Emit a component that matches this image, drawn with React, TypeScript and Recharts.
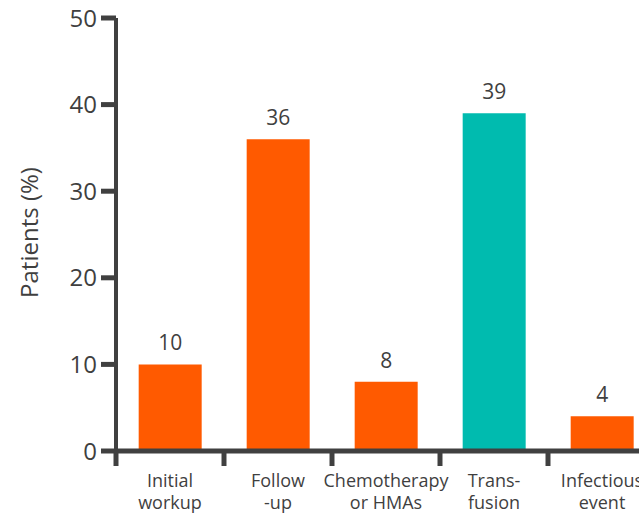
import React from "react";
import { BarChart, Bar, XAxis, YAxis, Cell, LabelList } from "recharts";

const categories = ["Initial|workup", "Follow|-up", "Chemotherapy|or HMAs", "Trans-|fusion", "Infectious|event"];
const patientsPct = [10, 36, 8, 39, 4];
const yTicks = [0, 10, 20, 30, 40, 50];
const highlighted = "Trans-|fusion";

const data = categories.map((c, i) => ({ category: c, value: patientsPct[i] }));

const ORANGE = "#FF5A00";
const TEAL = "#00BBAF";
const DARK = "#404040";
const TEXT = "#3f3f3f";
const FONT = "'Open Sans', 'Noto Sans', sans-serif";

const CHART_W = 700;
const CHART_H = 514;
const Y_AXIS_W = 116;
const MARGIN = { top: 18, right: 44, bottom: 0, left: 0 };
const BAND = (CHART_W - Y_AXIS_W - MARGIN.right - MARGIN.left) / categories.length;

const CategoryTick = (props: any) => {
  const { x, y, payload } = props;
  const lines = String(payload.value).split("|");
  return (
    <g>
      <line x1={x - BAND / 2} x2={x - BAND / 2} y1={y} y2={y + 15} stroke={DARK} strokeWidth={5} />
      {lines.map((ln, i) => (
        <text key={i} x={x} y={y + 36 + i * 22} textAnchor="middle" fill={TEXT} fontSize={18} fontFamily={FONT}>
          {ln}
        </text>
      ))}
    </g>
  );
};

export default function App() {
  return (
    <div style={{ position: "absolute", top: 0, left: 0, width: 639, height: 514, overflow: "hidden", background: "#fff" }}>
      <BarChart width={CHART_W} height={CHART_H} data={data} margin={MARGIN} barCategoryGap="21%">
        <XAxis
          dataKey="category"
          axisLine={{ stroke: DARK, strokeWidth: 5 }}
          tickLine={false}
          tickSize={0}
          tickMargin={0}
          height={63}
          interval={0}
          tick={<CategoryTick />}
        />
        <YAxis
          domain={[0, 50]}
          ticks={yTicks}
          width={Y_AXIS_W}
          axisLine={{ stroke: DARK, strokeWidth: 4 }}
          tickLine={{ stroke: DARK, strokeWidth: 5 }}
          tickSize={15}
          tickMargin={4}
          tick={{ fill: TEXT, fontSize: 24, fontFamily: FONT }}
          label={{
            value: "Patients (%)",
            angle: -90,
            position: "insideLeft",
            dx: 24,
            dy: -2,
            style: { fill: TEXT, fontSize: 24, fontFamily: FONT, textAnchor: "middle" },
          }}
        />
        <Bar dataKey="value" isAnimationActive={false}>
          {data.map((d, i) => (
            <Cell key={i} fill={d.category === highlighted ? TEAL : ORANGE} />
          ))}
          <LabelList dataKey="value" position="top" offset={14} fill={TEXT} fontSize={21} fontFamily={FONT} />
        </Bar>
      </BarChart>
    </div>
  );
}
